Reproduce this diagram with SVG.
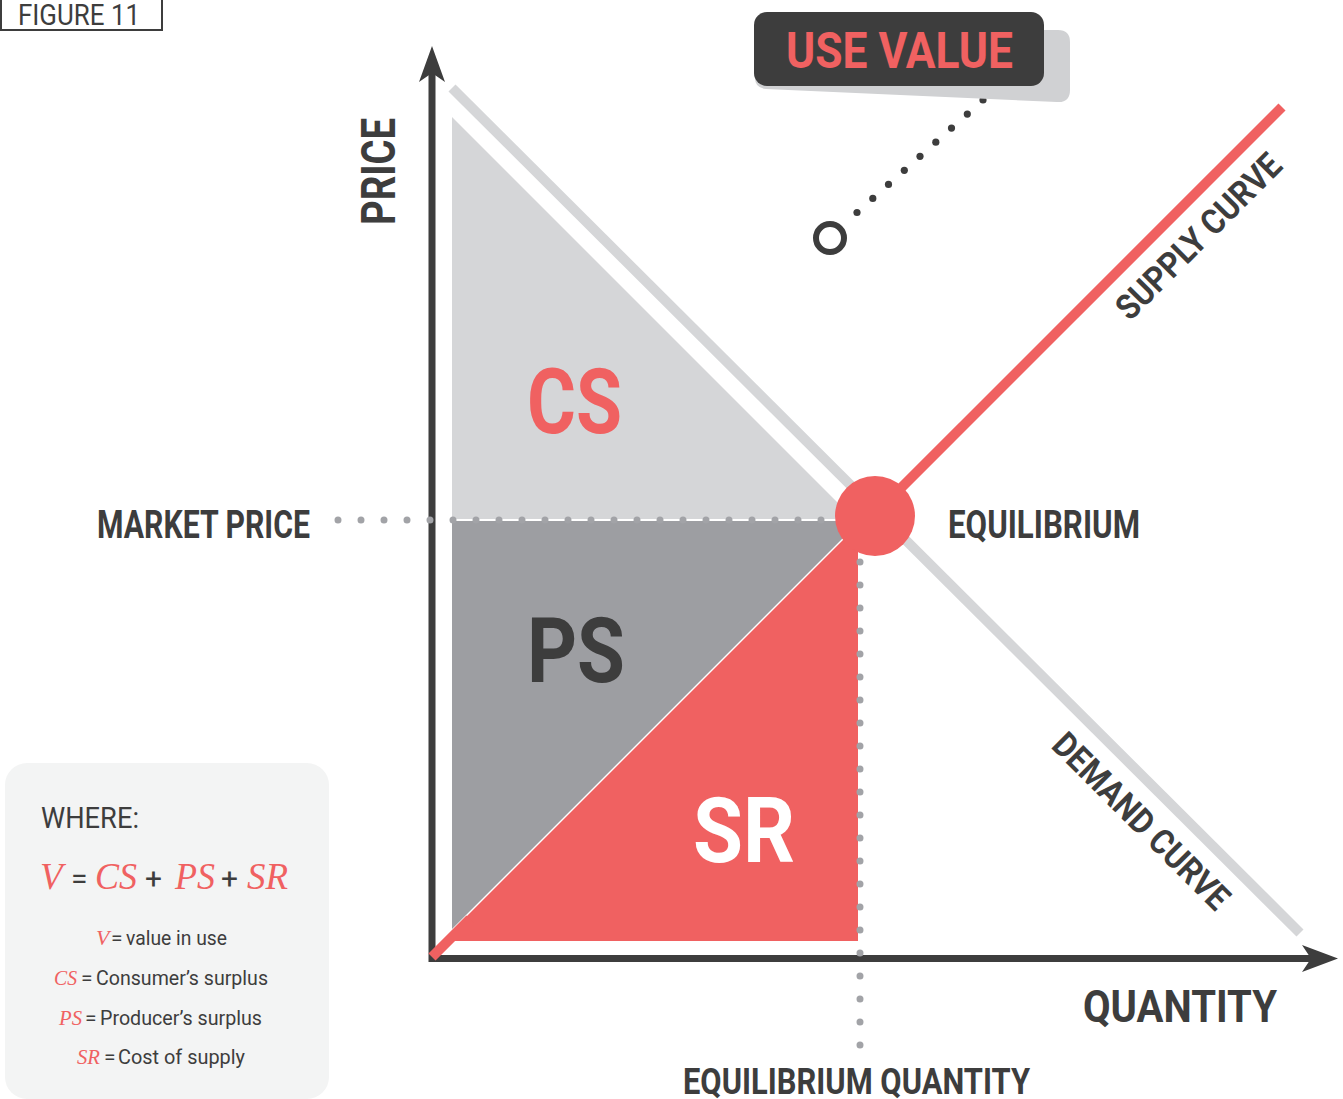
<svg xmlns="http://www.w3.org/2000/svg" width="1343" height="1099" viewBox="0 0 1343 1099">
<style>
.lbl{font-family:Roboto,"Liberation Sans",sans-serif;font-weight:700;fill:#3d3d3d}
.reg{font-family:Roboto,"Liberation Sans",sans-serif;font-weight:400;fill:#3d3d3d}
.it{font-family:"Liberation Serif",serif;font-style:italic;fill:#f06161}
.axis{stroke:#3d3d3d;stroke-width:7;fill:none}
.gdots{stroke:#a2a3a7;stroke-width:7;stroke-linecap:round;stroke-dasharray:0 23;fill:none}
.dd{fill:#3d3d3d}
</style>
<rect width="1343" height="1099" fill="#ffffff"/>

<g id="figure-label">
<rect x="1" y="-3" width="161" height="33" fill="none" stroke="#3d3d3d" stroke-width="2"/>
<text class="reg" x="18" y="25" font-size="30" font-weight="500" textLength="122" lengthAdjust="spacingAndGlyphs">FIGURE 11</text>
</g>

<g id="areas">
<polygon id="cs-area" points="452,117 452,519 854,519" fill="#d5d6d8"/>
<polygon id="ps-area" points="452,521 860,521 452,929" fill="#9d9ea2"/>
<polygon id="sr-area" points="442,941 858,941 858,525" fill="#f06161"/>
</g>

<g id="demand-curve">
<line x1="452" y1="88" x2="1300" y2="933" stroke="#d5d6d8" stroke-width="10"/>
</g>

<g id="connectors">
<line class="axis" x1="432" y1="72" x2="432" y2="962"/>
<polygon points="432,46 445,82 432,73 419,82" fill="#3d3d3d"/>
<line class="axis" x1="429" y1="958.5" x2="1312" y2="958.5"/>
<polygon points="1338,958.5 1302,945 1311,958.5 1302,972" fill="#3d3d3d"/>
<line x1="432" y1="957" x2="470" y2="919" stroke="#f06161" stroke-width="10"/>
<line x1="872" y1="517" x2="1282" y2="107" stroke="#f06161" stroke-width="10"/>
<line class="gdots" x1="338" y1="520" x2="822" y2="520"/>
<line class="gdots" x1="860" y1="539" x2="860" y2="1046"/>
<g id="use-value-dots">
<circle class="dd" cx="857" cy="212.5" r="3.6"/>
<circle class="dd" cx="872.8" cy="198.4" r="3.6"/>
<circle class="dd" cx="888.5" cy="184.4" r="3.6"/>
<circle class="dd" cx="904.3" cy="170.3" r="3.6"/>
<circle class="dd" cx="920" cy="156.3" r="3.6"/>
<circle class="dd" cx="935.8" cy="142.2" r="3.6"/>
<circle class="dd" cx="951.5" cy="128.1" r="3.6"/>
<circle class="dd" cx="967.3" cy="114.1" r="3.6"/>
<circle class="dd" cx="983" cy="100" r="3.6"/>
</g>
</g>

<g id="use-value">
<path d="M 762 30 L 1058 30 Q 1070 30 1070 42 L 1070 90 Q 1070 103 1057 102 L 766 89 Q 755 88 755 78 Z" fill="#d0d1d3"/>
<rect x="754" y="12" width="290" height="74" rx="13" fill="#3d3d3d"/>
<text class="lbl" x="786" y="68" font-size="50" style="fill:#f06161" textLength="227" lengthAdjust="spacingAndGlyphs">USE VALUE</text>
<circle cx="830" cy="238" r="14" fill="none" stroke="#3d3d3d" stroke-width="6"/>
</g>

<g id="equilibrium">
<circle cx="875" cy="516" r="40" fill="#f06161"/>
<text class="lbl" x="948" y="538" font-size="38" textLength="192" lengthAdjust="spacingAndGlyphs">EQUILIBRIUM</text>
</g>

<g id="labels">
<text class="lbl" transform="translate(395,225) rotate(-90)" font-size="48" textLength="107" lengthAdjust="spacingAndGlyphs">PRICE</text>
<text class="lbl" x="527" y="433" font-size="90" style="fill:#f06161" textLength="95" lengthAdjust="spacingAndGlyphs">CS</text>
<text class="lbl" x="527" y="682" font-size="90" textLength="98" lengthAdjust="spacingAndGlyphs">PS</text>
<text class="lbl" x="693" y="862" font-size="90" style="fill:#ffffff" textLength="102" lengthAdjust="spacingAndGlyphs">SR</text>
<text class="lbl" x="97" y="538" font-size="38" textLength="213" lengthAdjust="spacingAndGlyphs">MARKET PRICE</text>
<text class="lbl" x="1083" y="1022" font-size="45" textLength="194" lengthAdjust="spacingAndGlyphs">QUANTITY</text>
<text class="lbl" x="683" y="1094" font-size="36" textLength="347" lengthAdjust="spacingAndGlyphs">EQUILIBRIUM QUANTITY</text>
<text class="lbl" transform="translate(1130,322) rotate(-45)" font-size="35" textLength="218" lengthAdjust="spacingAndGlyphs">SUPPLY CURVE</text>
<text class="lbl" transform="translate(1050,747) rotate(45)" font-size="35" textLength="234" lengthAdjust="spacingAndGlyphs">DEMAND CURVE</text>
</g>

<g id="legend">
<rect x="5" y="763" width="324" height="336" rx="22" fill="#f3f4f4"/>
<text class="reg" x="41" y="828" font-size="29" font-weight="500" textLength="98" lengthAdjust="spacingAndGlyphs">WHERE:</text>
<text class="it" x="40" y="889" font-size="37">V</text>
<text class="reg" x="71" y="889" font-size="30">=</text>
<text class="it" x="95" y="889" font-size="37" textLength="42" lengthAdjust="spacingAndGlyphs">CS</text>
<text class="reg" x="145" y="889" font-size="30">+</text>
<text class="it" x="175" y="889" font-size="37" textLength="40" lengthAdjust="spacingAndGlyphs">PS</text>
<text class="reg" x="221" y="889" font-size="30">+</text>
<text class="it" x="247" y="889" font-size="37" textLength="41" lengthAdjust="spacingAndGlyphs">SR</text>

<text class="it" x="96" y="945" font-size="22">V</text>
<text class="reg" x="111" y="945" font-size="21">=</text>
<text class="reg" x="126" y="945" font-size="21" textLength="101" lengthAdjust="spacingAndGlyphs">value in use</text>

<text class="it" x="54" y="985" font-size="22" textLength="23" lengthAdjust="spacingAndGlyphs">CS</text>
<text class="reg" x="81" y="985" font-size="21">=</text>
<text class="reg" x="96" y="985" font-size="21" textLength="172" lengthAdjust="spacingAndGlyphs">Consumer’s surplus</text>

<text class="it" x="59" y="1025" font-size="22" textLength="23" lengthAdjust="spacingAndGlyphs">PS</text>
<text class="reg" x="85" y="1025" font-size="21">=</text>
<text class="reg" x="100" y="1025" font-size="21" textLength="162" lengthAdjust="spacingAndGlyphs">Producer’s surplus</text>

<text class="it" x="77" y="1064" font-size="22" textLength="23" lengthAdjust="spacingAndGlyphs">SR</text>
<text class="reg" x="104" y="1064" font-size="21">=</text>
<text class="reg" x="118" y="1064" font-size="21" textLength="127" lengthAdjust="spacingAndGlyphs">Cost of supply</text>
</g>
</svg>
